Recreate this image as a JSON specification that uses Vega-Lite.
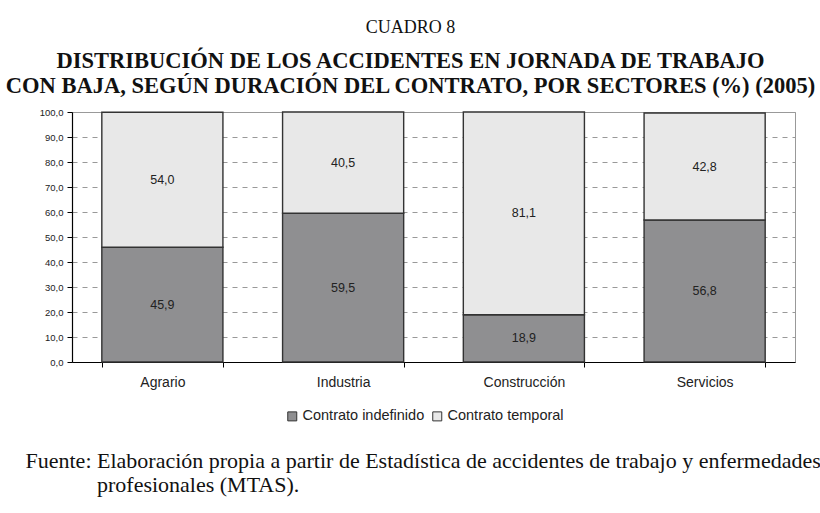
{
  "$schema": "https://vega.github.io/schema/vega-lite/v6.json",
  "width": 723,
  "height": 250,
  "autosize": {"type": "none"},
  "padding": {"left": 72, "top": 112, "right": 25, "bottom": 151},
  "background": "white",
  "config": {
    "locale": {"number": {"decimal": ",", "thousands": ".", "grouping": [3], "currency": ["", " €"]}},
    "view": {"stroke": "#999999", "strokeWidth": 1},
    "font": "Liberation Sans",
    "axisY": {
      "title": null,
      "format": ".1f",
      "labelOverlap": false,
      "labelFontSize": 9.5,
      "labelColor": "#222222",
      "labelPadding": 4,
      "tickSize": 5,
      "tickColor": "#000000",
      "domainColor": "#000000",
      "domainWidth": 1.2,
      "grid": true,
      "gridColor": "#999999",
      "gridDash": [5, 5],
      "gridWidth": 1
    }
  },
  "title": {
    "text": "CUADRO 8",
    "subtitle": ["DISTRIBUCIÓN DE LOS ACCIDENTES EN JORNADA DE TRABAJO", "CON BAJA, SEGÚN DURACIÓN DEL CONTRATO, POR SECTORES (%) (2005)"],
    "anchor": "middle",
    "frame": "group",
    "dx": -23,
    "font": "Liberation Serif",
    "fontSize": 18,
    "fontWeight": "normal",
    "color": "#111111",
    "subtitleFont": "Liberation Serif",
    "subtitleFontSize": 22.5,
    "subtitleFontWeight": "bold",
    "subtitleColor": "#111111",
    "subtitleLineHeight": 25,
    "subtitlePadding": 13,
    "offset": 10
  },
  "data": {
    "values": [
      {"sector": "Agrario", "contrato": "Contrato indefinido", "valor": 45.9},
      {"sector": "Agrario", "contrato": "Contrato temporal", "valor": 54.0},
      {"sector": "Industria", "contrato": "Contrato indefinido", "valor": 59.5},
      {"sector": "Industria", "contrato": "Contrato temporal", "valor": 40.5},
      {"sector": "Construcción", "contrato": "Contrato indefinido", "valor": 18.9},
      {"sector": "Construcción", "contrato": "Contrato temporal", "valor": 81.1},
      {"sector": "Servicios", "contrato": "Contrato indefinido", "valor": 56.8},
      {"sector": "Servicios", "contrato": "Contrato temporal", "valor": 42.8}
    ]
  },
  "encoding": {
    "x": {
      "field": "sector",
      "type": "nominal",
      "sort": ["Agrario", "Industria", "Construcción", "Servicios"],
      "scale": {"paddingInner": 0.33, "paddingOuter": 0.165},
      "axis": {
        "title": ["Fuente: Elaboración propia a partir de Estadística de accidentes de trabajo y enfermedades", "\u200b\u00a0\u00a0\u00a0\u00a0\u00a0\u00a0\u00a0\u00a0\u00a0\u00a0\u00a0\u00a0\u00a0profesionales (MTAS)."],
        "titleFont": "Liberation Serif",
        "titleFontSize": 22,
        "titleFontWeight": "normal",
        "titleColor": "#111111",
        "titleAnchor": "start",
        "titleAlign": "left",
        "titleBaseline": "top",
        "titleX": -47,
        "titleY": 88,
        "titleLineHeight": 24,
        "titleLimit": 2000,
        "labelAngle": 0,
        "labelFontSize": 14,
        "labelColor": "#222222",
        "labelPadding": 8,
        "tickBand": "extent",
        "tickSize": 5,
        "tickColor": "#000000",
        "domainColor": "#000000",
        "domainWidth": 1.2,
        "grid": false
      }
    },
    "order": {"field": "contrato", "type": "nominal", "sort": "ascending"}
  },
  "layer": [
    {
      "mark": {"type": "bar", "stroke": "#333333", "strokeWidth": 1.4},
      "encoding": {
        "y": {
          "field": "valor",
          "type": "quantitative",
          "stack": "zero",
          "scale": {"domain": [0, 100], "nice": false},
          "axis": {"values": [0, 10, 20, 30, 40, 50, 60, 70, 80, 90, 100], "tickCount": 12}
        },
        "color": {
          "field": "contrato",
          "type": "nominal",
          "scale": {"domain": ["Contrato indefinido", "Contrato temporal"], "range": ["#8f8f91", "#e8e8e8"]},
          "legend": {
            "title": null,
            "orient": "none",
            "legendX": 213,
            "legendY": 297,
            "direction": "horizontal",
            "symbolType": "square",
            "symbolSize": 81,
            "symbolStrokeColor": "#333333",
            "symbolStrokeWidth": 1,
            "labelFontSize": 14.5,
            "labelColor": "#222222",
            "labelOffset": 3,
            "columnPadding": 5
          }
        }
      }
    },
    {
      "mark": {"type": "text", "font": "Liberation Sans", "fontSize": 12.5, "color": "#222222", "baseline": "middle"},
      "encoding": {
        "y": {
          "field": "valor",
          "type": "quantitative",
          "stack": "zero",
          "bandPosition": 0.5,
          "axis": {"values": [0, 10, 20, 30, 40, 50, 60, 70, 80, 90, 100], "tickCount": 12}
        },
        "text": {"field": "valor", "type": "quantitative", "format": ".1f"}
      }
    }
  ]
}
